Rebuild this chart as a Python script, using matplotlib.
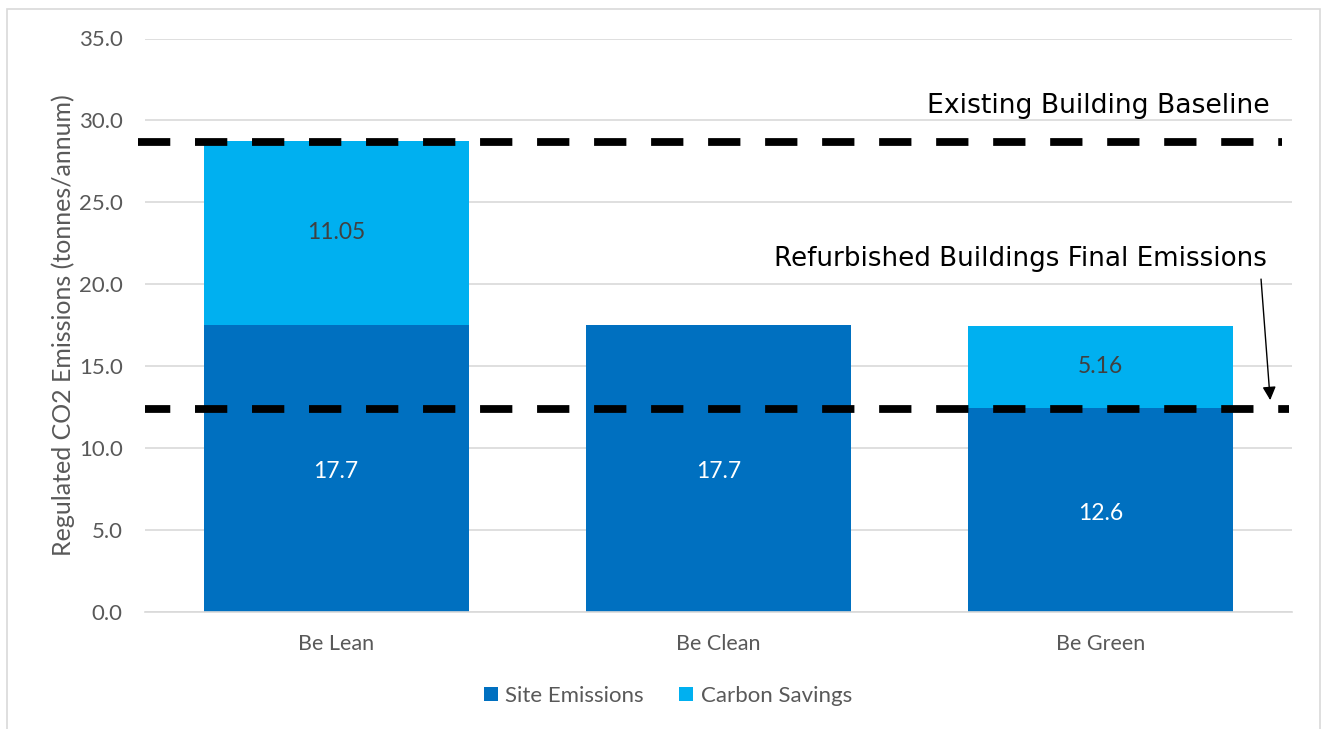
import matplotlib
matplotlib.use("Agg")
import matplotlib.pyplot as plt
from matplotlib.patches import Rectangle

categories = ["Be Lean", "Be Clean", "Be Green"]
site_emissions = [17.5, 17.5, 12.45]
carbon_savings = [11.27, 0.0, 5.02]
site_labels = ["17.7", "17.7", "12.6"]
savings_labels = ["11.05", "", "5.16"]
baseline_value = 28.71
final_value = 12.36
yticks = [0, 5, 10, 15, 20, 25, 30, 35]

DARK = "#0070C0"
LIGHT = "#00B0F0"
GREY = "#595959"

plt.rcParams['font.family'] = ['Lato', 'DejaVu Sans']

fig = plt.figure(figsize=(13.24, 7.29), dpi=100)
W, H = 1324, 729
ax = fig.add_axes([145 / W, 1 - 611.7 / H, (1292 - 145) / W, (611.7 - 38.5) / H])

# outer frame
fig.patches.append(Rectangle((7 / W, -0.01), (1320 - 7) / W, 1.01 - 9 / H, transform=fig.transFigure,
                             fill=False, edgecolor="#D9D9D9", linewidth=1.2))

x = list(range(len(categories)))
bw = 0.693
ax.bar(x, site_emissions, width=bw, color=DARK, label="Site Emissions", zorder=2)
ax.bar(x, carbon_savings, width=bw, bottom=site_emissions, color=LIGHT, label="Carbon Savings", zorder=2)

for i in x:
    ax.text(i, site_emissions[i] / 2 - 0.2, site_labels[i], ha="center", va="center",
            color="white", fontsize=16.5, zorder=4)
    if savings_labels[i]:
        ax.text(i, site_emissions[i] + carbon_savings[i] / 2, savings_labels[i], ha="center",
                va="center", color="#404040", fontsize=16.5, zorder=4)

lw = 5.6
ax.plot([-0.518, 2.474], [baseline_value, baseline_value], color="black", linewidth=lw,
        linestyle=(0, (4.15, 3.18)), clip_on=False, zorder=3, dash_capstyle="butt")
ax.plot([-0.5, 2.492], [final_value, final_value], color="black", linewidth=lw,
        linestyle=(0.9, (4.15, 3.18)), clip_on=False, zorder=3, dash_capstyle="butt")

ax.text(1.994, 30.45, "Existing Building Baseline", ha="center", va="baseline", fontsize=19.2,
        color="black", fontfamily=["DejaVu Sans"])
ax.text(1.79, 21.1, "Refurbished Buildings Final Emissions", ha="center", va="baseline", fontsize=18.8,
        color="black", fontfamily=["DejaVu Sans"])
ax.annotate("", xy=(2.443, 12.92), xytext=(2.419, 20.31),
            arrowprops=dict(arrowstyle="-|>", color="black", lw=1, mutation_scale=20,
                            shrinkA=0, shrinkB=0))

ax.set_xlim(-0.5, 2.5)
ax.set_ylim(0, 35)
ax.set_yticks(yticks)
ax.set_yticklabels([f"{v:.1f}" for v in yticks], fontsize=16, color=GREY)
ax.set_xticks(x)
ax.set_xticklabels(categories, fontsize=15.5, color=GREY)
ax.tick_params(axis="y", length=0, pad=16)
ax.tick_params(axis="x", length=0, pad=16)
ax.grid(axis="y", color="#D9D9D9", linewidth=1.2, zorder=0)
ax.set_axisbelow(True)
for s in ax.spines.values():
    s.set_visible(False)
ax.spines["bottom"].set_visible(True)
ax.spines["bottom"].set_color("#D9D9D9")
ax.spines["bottom"].set_linewidth(1.2)

fig.text(63 / W, 1 - 325 / H, "Regulated CO2 Emissions (tonnes/annum)", rotation=90,
         ha="center", va="center", fontsize=18, color=GREY)

ax.legend(loc="center", bbox_to_anchor=(0.456, -0.147), ncol=2, frameon=False, fontsize=16,
          labelcolor=GREY, handlelength=0.6, handleheight=0.6, handletextpad=0.35, columnspacing=1.6)

fig.savefig("out.png", dpi=100)
